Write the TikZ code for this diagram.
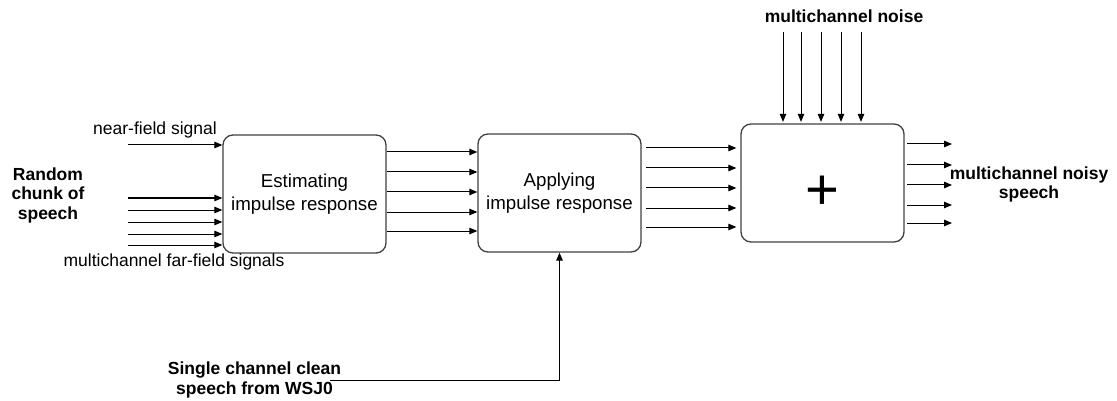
\documentclass[tikz,border=0pt]{standalone}
\usepackage{fontspec}
\setmainfont{Liberation Sans}
\usetikzlibrary{arrows.meta,calc}
\tikzset{
  block/.style={draw=black!75, line width=1.3pt, rounded corners=10pt,
    minimum width=163pt, minimum height=118pt, inner sep=0pt, align=center,
    font=\fontsize{18.7}{22.7}\selectfont},
  lab/.style={inner sep=0pt, font=\fontsize{17.5}{19.5}\selectfont},
  blab/.style={lab, align=center, font=\fontsize{17.5}{19.5}\selectfont\bfseries},
  sig/.style={draw=black, line width=1pt,
    -{Triangle[length=8pt,width=6.5pt]}},
}
\begin{document}
\begin{tikzpicture}[x=1pt,y=-1pt]
\useasboundingbox (0,0) rectangle (1117,401);

% processing blocks
\node[block] (est) at (304.5,194) {Estimating\\impulse response};
\node[block] (app) at (559.5,193) {Applying\\impulse response};
\node[block] (sum) at (822.5,183) {};
\node[inner sep=0pt, font=\fontsize{58}{60}\selectfont] (plus) at (822,193) {+};

% labels
\node[lab] (near) at (155,130) {near-field signal};
\node[lab] (far) at (174,262) {multichannel far-field signals};
\node[blab] (chunk) at (48,195) {Random\\chunk of\\speech};
\node[blab] (noise) at (844,16) {multichannel noise};
\node[blab] (noisy) at (1029,184.5) {multichannel noisy\\speech};
\node[blab] (wsj) at (254.5,380) {Single channel clean\\speech from WSJ0};

% near-field input
\coordinate (nf) at (128,145);
\draw[sig] (nf) -- (nf -| est.west);

% far-field inputs
\foreach \y in {198,210,222,234,245}{
  \coordinate (ff) at (128,\y);
  \draw[sig] (ff) -- (ff -| est.west);
}

% estimated responses into the second block
\foreach \y in {152,172,192,212,231}{
  \coordinate (er) at (est.east |- 0,\y);
  \draw[sig] (er) -- (er -| app.west);
}

% reverberated speech into the adder
\foreach \y in {148,168,188,208,227}{
  \coordinate (rs) at (646,\y);
  \draw[sig, shorten >=4pt] (rs) -- (rs -| sum.west);
}

% noise channels
\foreach \x in {783,801,821,841,861}{
  \coordinate (nz) at (\x,32);
  \draw[sig, shorten >=1.5pt] (nz) -- (nz |- sum.north);
}

% noisy outputs
\foreach \y in {144,165,185,205,223}{
  \coordinate (o1) at (907,\y);
  \coordinate (o2) at (952,\y);
  \draw[sig] (o1) -- (o2);
}

% clean speech feed
\coordinate (cs) at (330,380);
\draw[sig] (cs) -| (app.south);
\end{tikzpicture}
\end{document}
